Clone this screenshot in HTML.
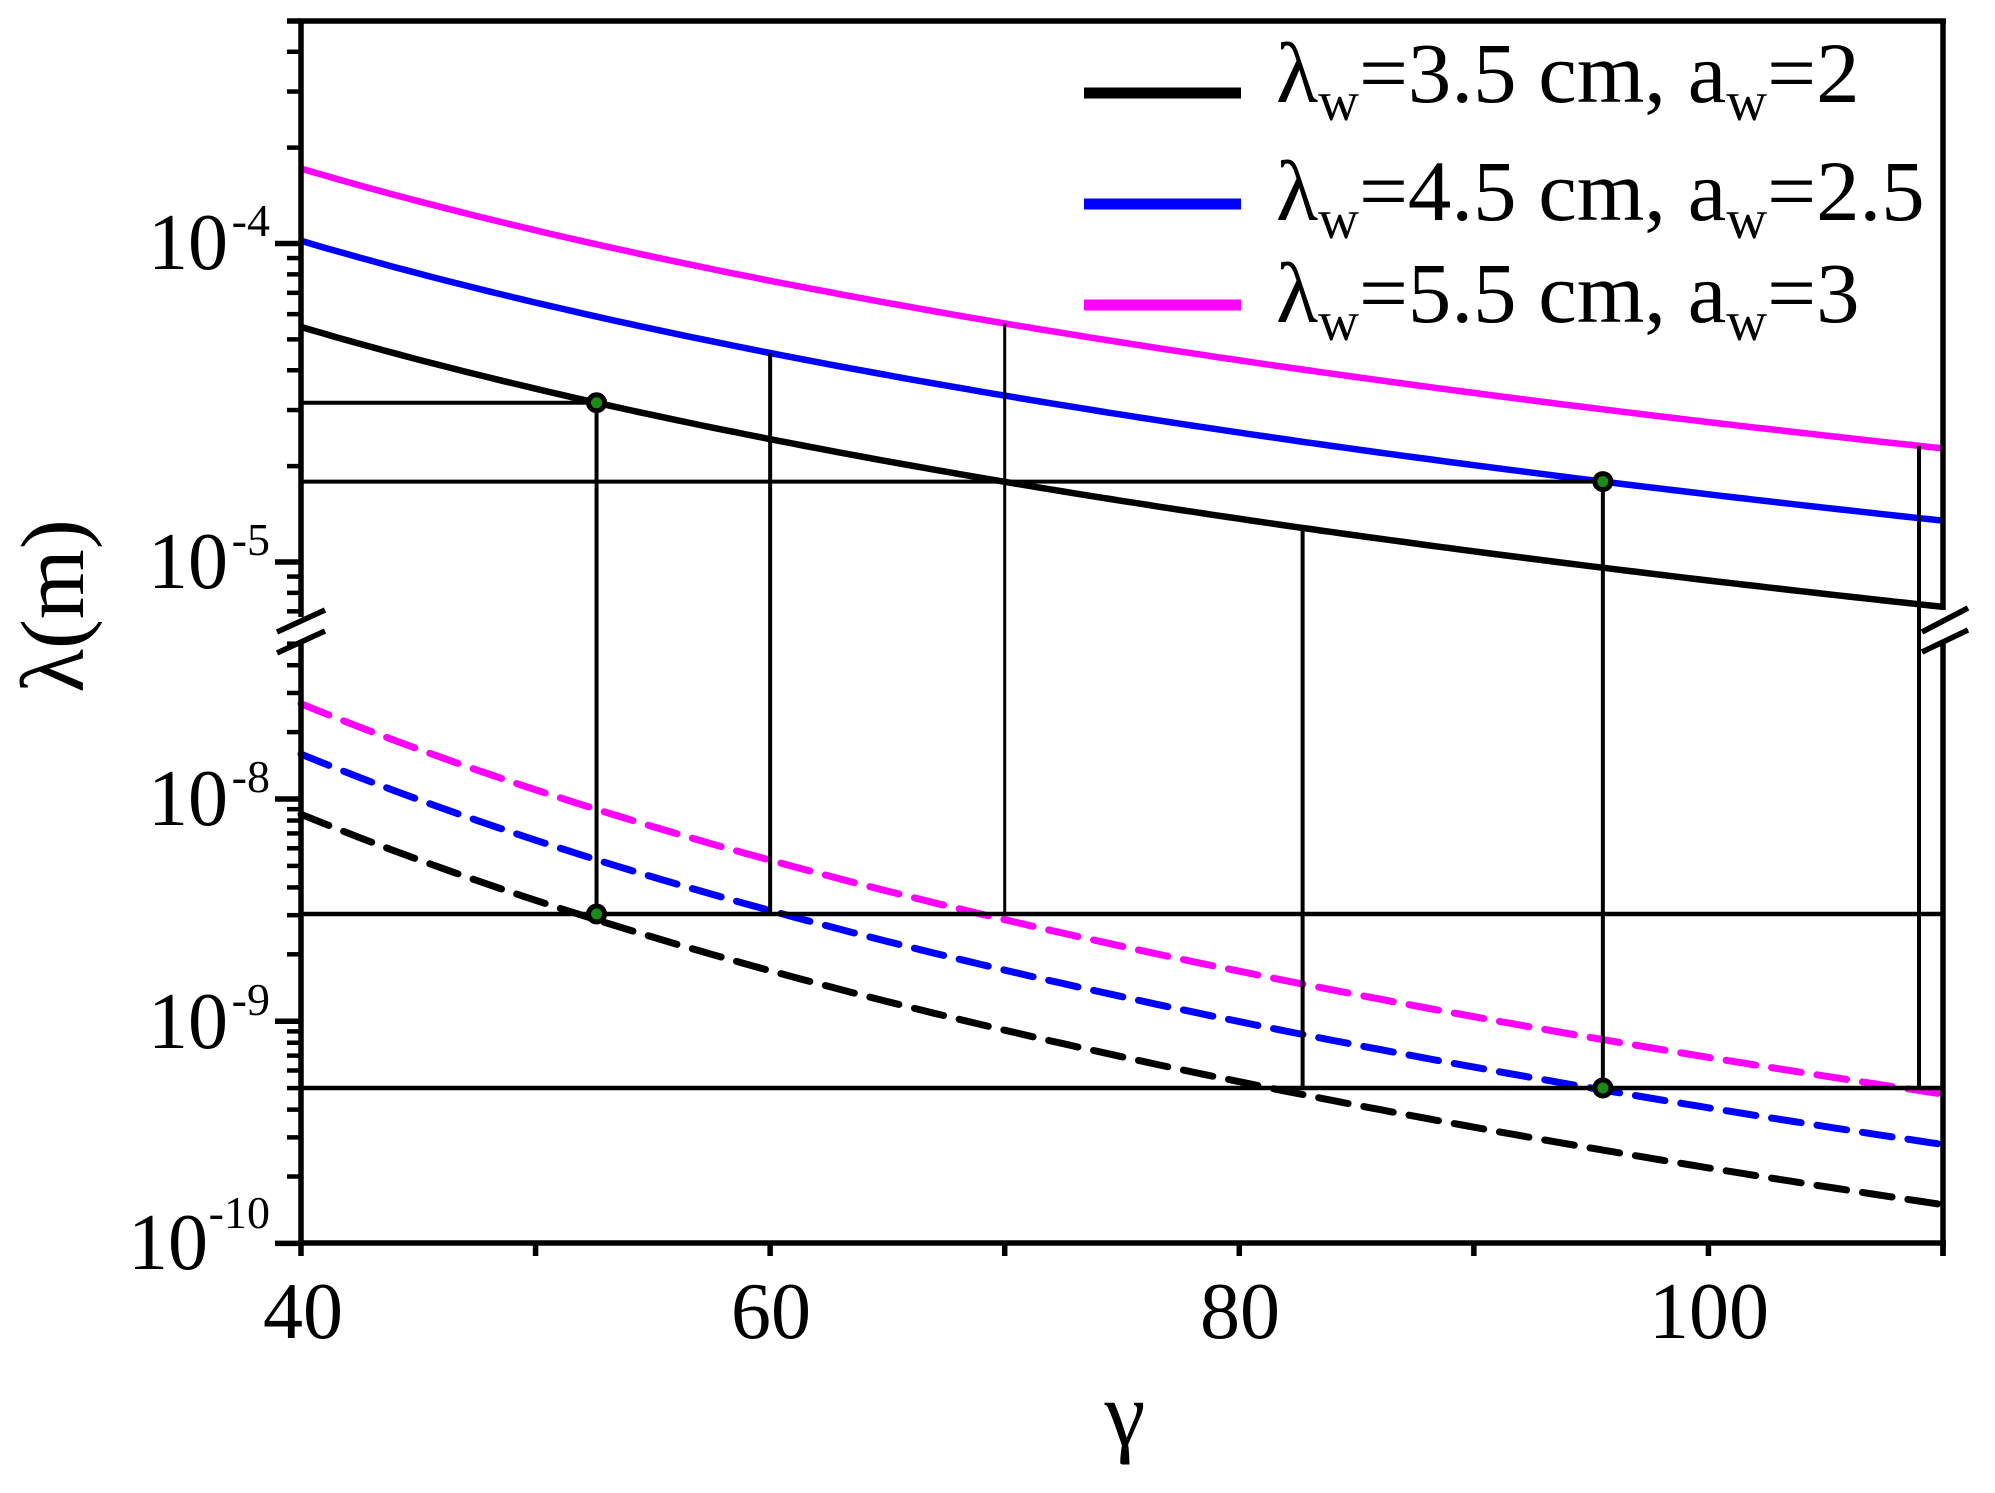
<!DOCTYPE html>
<html><head><meta charset="utf-8"><style>
html,body{margin:0;padding:0;background:#fff;}
svg{display:block;font-family:"Liberation Serif",serif;}
</style></head><body>
<svg id="s" width="1995" height="1493" viewBox="0 0 1995 1493" xmlns="http://www.w3.org/2000/svg">
<rect width="1995" height="1493" fill="#fff"/>
<g id="curves"></g>
<g id="guides" stroke="#000" fill="none"></g>
<g id="axes" stroke="#000" fill="none"></g>
<g id="dots"></g>
<g font-size="80" fill="#000" text-anchor="end">
<text x="228" y="269">10</text><text x="270" y="236" font-size="46">-4</text>
<text x="228" y="588">10</text><text x="270" y="555" font-size="46">-5</text>
<text x="228" y="825">10</text><text x="270" y="792" font-size="46">-8</text>
<text x="228" y="1048">10</text><text x="270" y="1015" font-size="46">-9</text>
<text x="208" y="1269">10</text><text x="270" y="1228" font-size="46">-10</text>
</g>
<g font-size="80" fill="#000" text-anchor="middle">
<text x="303" y="1338">40</text>
<text x="771" y="1338">60</text>
<text x="1240" y="1338">80</text>
<text x="1709" y="1338">100</text>
<text x="1125" y="1445" font-size="92">γ</text>
<text transform="translate(83,606) rotate(-90)" font-size="90">λ(m)</text>
</g>
<g stroke-width="11">
<line x1="1084" y1="93" x2="1241" y2="93" stroke="#000"/>
<line x1="1084" y1="204" x2="1241" y2="204" stroke="#0000ff"/>
<line x1="1084" y1="305" x2="1241" y2="305" stroke="#ff00ff"/>
</g>
<g font-size="86" fill="#000">
<text x="1276" y="102" transform="translate(1276,0) scale(1.01,1) translate(-1276,0)">λ<tspan font-size="56" dy="18">w</tspan><tspan dy="-18">=3.5 cm, a</tspan><tspan font-size="56" dy="18">w</tspan><tspan dy="-18">=2</tspan></text>
<text x="1276" y="220" transform="translate(1276,0) scale(1.01,1) translate(-1276,0)">λ<tspan font-size="56" dy="18">w</tspan><tspan dy="-18">=4.5 cm, a</tspan><tspan font-size="56" dy="18">w</tspan><tspan dy="-18">=2.5</tspan></text>
<text x="1276" y="322" transform="translate(1276,0) scale(1.01,1) translate(-1276,0)">λ<tspan font-size="56" dy="18">w</tspan><tspan dy="-18">=5.5 cm, a</tspan><tspan font-size="56" dy="18">w</tspan><tspan dy="-18">=3</tspan></text>
</g>
<script>
(function(){
var NS="http://www.w3.org/2000/svg";
function X(g){return 301+(g-40)*23.457;}
function Yu(v){return 243.5-(Math.log10(v)+4)*318.5;}
function Yl(v){return 799-(Math.log10(v)+8)*222.2;}
function up(lw,aw,g){return lw*(1+aw*aw)/(2*g*g);}
function lo(lw,aw,g){return up(lw,aw,g)/(4*g*g);}
function el(p,tag,a){var e=document.createElementNS(NS,tag);for(var k in a)e.setAttribute(k,a[k]);p.appendChild(e);return e;}
var C=document.getElementById("curves");
var S=[[0.035,2,"#000"],[0.045,2.5,"#0000ff"],[0.055,3,"#ff00ff"]];
S.forEach(function(s){
 var a=[],b=[];
 for(var g=40;g<=110.001;g+=0.5){a.push(X(g).toFixed(1)+","+Yu(up(s[0],s[1],g)).toFixed(1));b.push(X(g).toFixed(1)+","+Yl(lo(s[0],s[1],g)).toFixed(1));}
 el(C,"polyline",{points:a.join(" "),fill:"none",stroke:s[2],"stroke-width":6.5});
 el(C,"polyline",{points:b.join(" "),fill:"none",stroke:s[2],"stroke-width":7,"stroke-dasharray":"30 16","stroke-linecap":"round"});
});
var G=document.getElementById("guides");
function L(x1,y1,x2,y2,w){el(G,"line",{x1:x1,y1:y1,x2:x2,y2:y2,"stroke-width":w||4});}
var g1=52.6,g2=95.5;
var h1=Yu(up(0.035,2,g1)),h2=Yu(up(0.045,2.5,g2));
L(301,h1,X(g1),h1);L(301,h2,X(g2),h2);
L(301,914,1943,914,4.5);L(301,1088,1943,1088,4.5);
L(X(g1),h1,X(g1),914);
L(X(60),Yu(up(0.045,2.5,60)),X(60),914);
L(X(70),Yu(up(0.055,3,70)),X(70),914,3);
L(X(82.7),Yu(up(0.035,2,82.7)),X(82.7),1088);
L(X(g2),h2,X(g2),1088);
L(1919,Yu(up(0.055,3,109)),1919,1088);
var D=document.getElementById("dots");
[[X(g1),h1],[X(g2),h2],[X(g1),914],[X(g2),1088]].forEach(function(p){el(D,"circle",{cx:p[0],cy:p[1],r:8,fill:"#1a8c1a",stroke:"#000","stroke-width":5});});
var A=document.getElementById("axes");
function M(x1,y1,x2,y2,w){el(A,"line",{x1:x1,y1:y1,x2:x2,y2:y2,"stroke-width":w||5.5});}
M(298,21,1946,21);M(298,1243,1946,1243);
M(301,21,301,617);M(301,642,301,1256);
M(1943,21,1943,610);M(1943,642,1943,1256);
M(277,632,325,610,5.5);M(277,653,325,631,5.5);
M(1922,632,1968,608,5.5);M(1922,652,1968,630,5.5);
for(var g=50;g<=110;g+=10){M(X(g),1243,X(g),1256);}
for(var e=-6;e<=-4;e++){for(var m=1;m<=9;m++){var v=m*Math.pow(10,e);var y=Yu(v);if(y<21||y>617)continue;M(m==1?275:287,y,301,y,m==1?5.5:4.5);}}
M(287,21,301,21);
for(var e=-10;e<=-8;e++){for(var m=1;m<=9;m++){var v=m*Math.pow(10,e);var y=Yl(v);if(y<642||y>1243.5)continue;M(m==1?275:287,y,301,y,m==1?5.5:4.5);}}
})();
</script>
</svg>
</body></html>
